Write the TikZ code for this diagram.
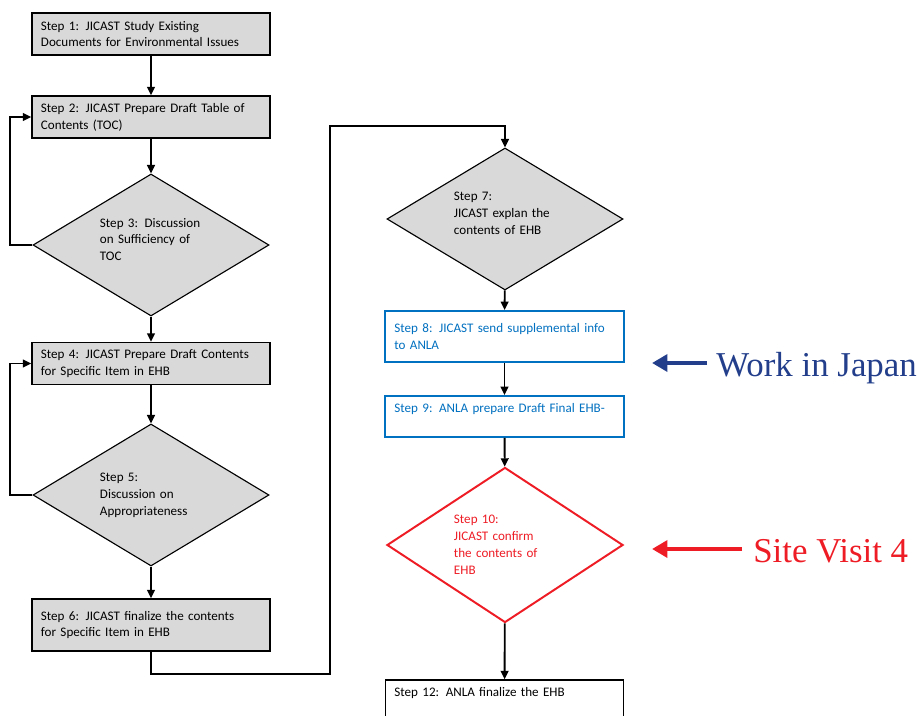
\documentclass[tikz,border=0pt]{standalone}
\usepackage{fontspec}
\setmainfont{Carlito}
\newfontfamily\tnr{Liberation Serif}
\usetikzlibrary{shapes.geometric,arrows.meta}
\definecolor{gris}{HTML}{D9D9D9}
\definecolor{azul}{HTML}{0070C0}
\definecolor{rojo}{HTML}{EE1C25}
\definecolor{marino}{HTML}{233F8B}
\tikzset{
	caja/.style={draw, line width=1pt, fill=gris, text width=5.5cm, inner xsep=0.225cm, inner ysep=0pt,
		minimum height=1.05cm, align=left, font=\fontsize{9.3}{12}\selectfont},
	rombo/.style={draw, line width=0.8pt, fill=gris, diamond, aspect=1.5, inner sep=0pt,
		minimum width=5.9cm, minimum height=3.55cm, text width=2.55cm, align=left, font=\fontsize{9.3}{12}\selectfont},
	flecha/.style={-{Triangle[length=6pt,width=5.5pt]}, line width=1.3pt},
	grande/.style={-{Triangle[length=11pt,width=12pt]}, line width=3pt},
	etiqueta/.style={anchor=base west, inner sep=0pt, font=\tnr\fontsize{24.8}{25}\selectfont}
}
\begin{document}
\begin{tikzpicture}[x=0.025cm, y=-0.025cm]
		\useasboundingbox (0,0) rectangle (920,716);
		\clip (0,0) rectangle (920,716);

		% columna izquierda
		\node[caja] (p1) at (151,34) {Step 1: JICAST Study Existing\\Documents for Environmental Issues}; % center (151,34)
		\node[caja] (p2) at (151,117) {Step 2: JICAST Prepare Draft Table of\\Contents (TOC)}; % center (151,117)
		\node[rombo] (p3) at (151,245) {Step 3: Discussion\\on Sufficiency of\\TOC\\[-4pt]\mbox{}}; % center (151,245); texto algo alto
		\node[caja] (p4) at (151,363.5) {Step 4: JICAST Prepare Draft Contents\\for Specific Item in EHB}; % center (151,363.5)
		\node[rombo] (p5) at (151,495) {Step 5:\\Discussion on\\Appropriateness}; % center (151,495)
		\node[caja, minimum height=1.3cm] (p6) at (151,625) {Step 6: JICAST finalize the contents\\for Specific Item in EHB}; % center (151,625)

		% columna derecha
		\node[rombo] (p7) at (505,219) {Step 7:\\JICAST explan the\\contents of EHB\\[-4pt]\mbox{}}; % center (505,219); texto algo alto
		\node[caja, draw=azul, text=azul, fill=white, line width=1.4pt, minimum height=1.275cm] (p8) at (504.5,336.5) {Step 8: JICAST send supplemental info\\to ANLA}; % center (504.5,336.5)
		\node[caja, draw=azul, text=azul, fill=white, line width=1.4pt, minimum height=1.025cm] (p9) at (504.5,416.5) {Step 9: ANLA prepare Draft Final EHB-\\\mbox{}}; % center (504.5,416.5)
		\node[rombo, draw=rojo, text=rojo, fill=white, line width=1.4pt, minimum height=3.875cm] (p10) at (505,545) {Step 10:\\JICAST confirm\\the contents of\\EHB}; % center (505,545)
		\node[caja, fill=white, minimum height=1.025cm] (p12) at (504.5,700.5) {Step 12: ANLA finalize the EHB\\\mbox{}}; % center (504.5,700.5)

		% flechas
		\draw[flecha] (p1) -- (p2);
		\draw[flecha] (p2) -- (p3);
		\draw[flecha] (p3.west) -- ++(-22,0) |- (p2.west); % vuelta a step 2
		\draw[flecha] (p3) -- (p4);
		\draw[flecha] (p4) -- (p5);
		\draw[flecha] (p5.west) -- ++(-22,0) |- (p4.west); % vuelta a step 4
		\draw[flecha] (p5) -- (p6);
		\coordinate (c1) at (330,674);
		\coordinate (c2) at (330,126);
		\draw[flecha] (p6.south) |- (c1) -- (c2) -| (p7.north); % paso a la columna derecha
		\draw[flecha] (p7) -- (p8);
		\draw[flecha] (p8) -- (p9);
		\draw[flecha] (p9) -- (p10);
		\draw[flecha] (p10) -- (p12);

		% etiquetas
		\coordinate (wa) at (707,363);
		\coordinate (wb) at (652,363);
		\draw[grande, marino] (wa) -- (wb);
		\node[etiqueta, text=marino] (wj) at (716,376) {Work in Japan};
		\coordinate (sa) at (742,549);
		\coordinate (sb) at (652,549);
		\draw[grande, rojo] (sa) -- (sb);
		\node[etiqueta, text=rojo] (sv) at (753,562) {Site Visit 4};
	\end{tikzpicture}
\end{document}
